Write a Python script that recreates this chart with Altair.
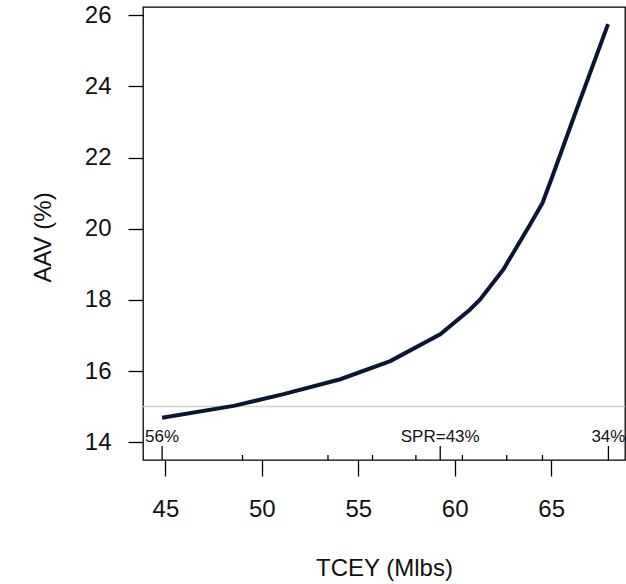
import altair as alt
import pandas as pd

# AAV versus TCEY trade-off curve
tcey = [44.83, 48.54, 51.13, 54.07, 56.66, 59.25, 60.80, 61.32, 62.53, 63.91, 64.55, 65.04, 66.16, 67.95]
aav = [14.69, 15.02, 15.35, 15.77, 16.28, 17.03, 17.73, 18.01, 18.86, 20.12, 20.72, 21.43, 23.11, 25.75]

# SPR markers along the bottom of the plot (TCEY positions)
spr_major_x = [44.83, 59.25, 67.97]
spr_major_labels = ["56%", "SPR=43%", "34%"]
spr_minor_x = [49.0, 53.43, 55.74, 57.99, 60.40, 62.70, 64.55]

# reference level
ref_aav = [15]

x_ticks = [45, 50, 55, 60, 65]
y_ticks = [14, 16, 18, 20, 22, 24, 26]

W, H = 482, 453
FONT = "Liberation Sans"

curve_df = pd.DataFrame({"tcey": tcey, "aav": aav})
major_df = pd.DataFrame({"tcey": spr_major_x, "label": spr_major_labels})
minor_df = pd.DataFrame({"tcey": spr_minor_x})
ref_df = pd.DataFrame({"aav": ref_aav})

x_scale = alt.Scale(domain=[43.84, 68.83], nice=False, zero=False)
y_scale = alt.Scale(domain=[13.50, 26.23], nice=False, zero=False)

x_enc = alt.X(
    "tcey:Q",
    scale=x_scale,
    axis=alt.Axis(
        values=x_ticks,
        title="TCEY (Mlbs)",
        domain=False,
        grid=False,
        tickSize=16,
        tickColor="black",
        tickWidth=1.3,
        labelFontSize=24,
        labelFont=FONT,
        labelColor="#111111",
        labelPadding=21,
        titleFont=FONT,
        titleFontSize=24,
        titleFontWeight="normal",
        titleColor="#111111",
        titleBaseline="alphabetic",
        titleY=115,
    ),
)

y_enc = alt.Y(
    "aav:Q",
    scale=y_scale,
    axis=alt.Axis(
        values=y_ticks,
        title="AAV (%)",
        domain=False,
        grid=False,
        tickSize=15,
        tickColor="black",
        tickWidth=1.3,
        labelFontSize=24,
        labelFont=FONT,
        labelColor="#111111",
        labelPadding=17,
        titleFont=FONT,
        titleFontSize=24,
        titleFontWeight="normal",
        titleColor="#111111",
        titleAngle=270,
        titleAlign="center",
        titleBaseline="alphabetic",
        titleX=-93,
        titleY=230,
    ),
)

ref_line = alt.Chart(ref_df).mark_rule(color="#d0d0d0", strokeWidth=1.5).encode(
    y=alt.Y("aav:Q", scale=y_scale)
)

curve = alt.Chart(curve_df).mark_line(color="#0b1634", strokeWidth=4).encode(
    x=x_enc, y=y_enc, order="tcey:Q"
)

major_ticks = alt.Chart(major_df).mark_rule(color="black", strokeWidth=1.3).encode(
    x=alt.X("tcey:Q", scale=x_scale),
    y=alt.value(H),
    y2=alt.value(H - 14),
)

minor_ticks = alt.Chart(minor_df).mark_rule(color="black", strokeWidth=1.3).encode(
    x=alt.X("tcey:Q", scale=x_scale),
    y=alt.value(H),
    y2=alt.value(H - 5),
)

labels = alt.Chart(major_df).mark_text(
    font=FONT, fontSize=17, color="#111111", align="center", baseline="alphabetic"
).encode(
    x=alt.X("tcey:Q", scale=x_scale),
    y=alt.value(435),
    text="label:N",
)

chart = (
    alt.layer(ref_line, curve, major_ticks, minor_ticks, labels)
    .properties(
        width=W,
        height=H,
        autosize=alt.AutoSizeParams(type="none"),
        padding={"left": 143, "top": 7, "right": 1, "bottom": 124},
        background="white",
    )
    .configure_view(stroke="black", strokeWidth=1.3)
)

chart.save("out.html", embed_options={"renderer": "svg", "actions": False})
